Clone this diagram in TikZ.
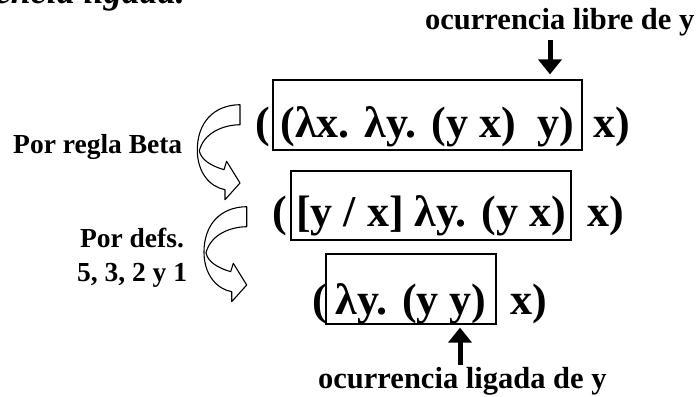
\documentclass[tikz,border=0pt]{standalone}
\usepackage{fontspec}
\setmainfont{Liberation Serif}
\usetikzlibrary{arrows.meta,calc,positioning}
\newcommand{\bigexpr}{\fontsize{44}{50}\selectfont\bfseries}
\newcommand{\notefont}{\fontsize{30.5}{36}\selectfont\bfseries}
\newcommand{\rulefont}{\fontsize{27.5}{34}\selectfont\bfseries}
\newcommand{\drawbendarrow}[3][]{% [options]{x}{y}
  \begin{scope}[shift={(#2,#3)},#1]
    % Ribbon and head, one outline
    \draw[line width=1.1pt,line join=round,fill=white]
      (66.7,6.7) .. controls (40,7) and (24,25) .. (24,52)
      .. controls (24,75) and (37,89) .. (51.7,91.7)
      -- (51.7,101.7) -- (66.7,85) -- (53.3,63.3) -- (50.7,71.7)
      .. controls (38,68) and (28,62) .. (26,53)
      .. controls (30,36) and (48,27) .. (66.7,26.7) -- cycle;
  \end{scope}
}
\tikzset{
  exprbox/.style={draw,line width=1.2pt,inner sep=0pt,font=\bigexpr},
  exprtext/.style={inner sep=0pt,anchor=base west,font=\bigexpr},
  fatarrow/.style={line width=5pt,-{Triangle[width=23pt,length=15pt]}}
}

\begin{document}
\begin{tikzpicture}[x=1pt,y=-1pt]
  \useasboundingbox (0,0) rectangle (698,396);
  \clip (0,0) rectangle (698,396);
  % Title cut off by the page edge
  \node[inner sep=0pt,anchor=base east,font=\fontsize{36}{40}\selectfont\bfseries\itshape]
    (title) at (185,4) {ocurrencia ligada.};
  % Line 1
  \node[exprtext] (open1) at (255,137) {(};
  \node[exprbox,minimum width=309pt,text height=57pt,text depth=13pt]
    (box1) at (427.5,115) {(λx. λy. (y x)\ \ y)};
  \node[exprtext] (close1) at (593,137) {x)};
  % Line 2
  \node[exprtext] (open2) at (272,226) {(};
  \node[exprbox,minimum width=280pt,text height=55pt,text depth=14pt]
    (box2) at (431,205.5) {[y / x] λy. (y x)};
  \node[exprtext] (close2) at (587,226) {x)};
  % Line 3
  \node[exprtext] (open3) at (312,314) {(};
  \node[exprbox,minimum width=170pt,text height=60pt,text depth=10pt]
    (box3) at (411,289) {λy. (y y)};
  \node[exprtext] (close3) at (510,314) {x)};
  % Free and bound occurrence
  \node[inner sep=0pt,anchor=base west,font=\notefont] (libre) at (425,30) {ocurrencia libre de y};
  \node[inner sep=0pt,anchor=base west,font=\notefont] (ligada) at (318,388) {ocurrencia ligada de y};
  \coordinate (freeY) at (550,0);
  \coordinate (boundY) at (460,0);
  \draw[fatarrow,shorten <=3pt,shorten >=5pt] (libre.south -| freeY) -- (box1.north -| freeY);
  \draw[fatarrow,shorten <=2pt,shorten >=3pt] (ligada.north -| boundY) -- (box3.south -| boundY);
  % Rules used
  \node[inner sep=0pt,anchor=base west,font=\rulefont] (beta) at (13,153) {Por regla Beta};
  \node[inner sep=0pt,align=center,font=\rulefont] (defs) at (132,257.5) {Por defs.\\5, 3, 2 y 1};
  \drawbendarrow{173.3}{98}
  \drawbendarrow{180}{200}
\end{tikzpicture}
\end{document}
